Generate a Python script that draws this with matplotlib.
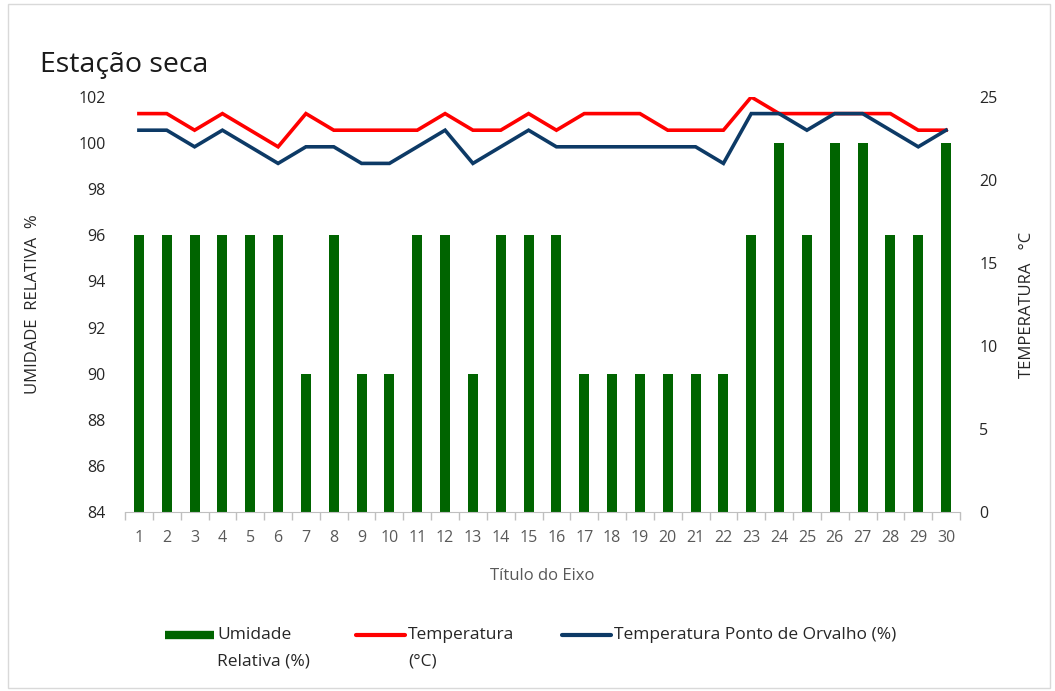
import matplotlib
matplotlib.use("Agg")
import matplotlib.pyplot as plt
from matplotlib.lines import Line2D
from matplotlib.patches import Rectangle
import numpy as np

plt.rcParams['font.family'] = ['Open Sans', 'DejaVu Sans']

days = list(range(1, 31))
umidade = [96, 96, 96, 96, 96, 96, 90, 96, 90, 90,
           96, 96, 90, 96, 96, 96, 90, 90, 90, 90,
           90, 90, 96, 100, 96, 100, 100, 96, 96, 100]
temperatura = [24, 24, 23, 24, 23, 22, 24, 23, 23, 23,
               23, 24, 23, 23, 24, 23, 24, 24, 24, 23,
               23, 23, 25, 24, 24, 24, 24, 24, 23, 23]
orvalho = [23, 23, 22, 23, 22, 21, 22, 22, 21, 21,
           22, 23, 21, 22, 23, 22, 22, 22, 22, 22,
           22, 21, 24, 24, 23, 24, 24, 23, 22, 23]
left_ticks = list(range(84, 103, 2))
right_ticks = [0, 5, 10, 15, 20, 25]

W, H = 1055, 691
fig = plt.figure(figsize=(W / 100, H / 100), dpi=100)
fig.patch.set_facecolor('white')

# outer border
fig.add_artist(Rectangle((8 / W, 3 / H), 1042 / W, 684 / H, transform=fig.transFigure,
                         fill=False, edgecolor='#D9D9D9', linewidth=1))

ax = fig.add_axes([125 / W, 1 - 512 / H, (960 - 125) / W, (512 - 97) / H])
ax2 = ax.twinx()

green = '#006400'
red = '#FF0000'
blue = '#0D3A66'
gray = '#595959'
dark = '#262626'

ax.bar(days, [u - 84 for u in umidade], bottom=84, width=0.36, color=green, zorder=2)
ax.set_ylim(84, 102)
ax.set_yticks(left_ticks)
ax.set_xlim(0.5, 30.5)
ax.set_xticks(days)
ax.set_xticks(np.arange(0.5, 31, 1), minor=True)
ax.tick_params(axis='x', which='major', length=0, pad=13, labelsize=11.5, labelcolor=gray)
ax.tick_params(axis='x', which='minor', length=6, color='#BFBFBF', width=1)
ax.tick_params(axis='y', length=0, pad=14, labelsize=11.5, labelcolor=dark)
for s in ['top', 'left', 'right']:
    ax.spines[s].set_visible(False)
ax.spines['bottom'].set_color('#BFBFBF')
ax.set_xlabel('Título do Eixo', fontsize=12, color=gray, labelpad=16)
ax.set_ylabel('UMIDADE  RELATIVA  %', fontsize=12, color=dark, labelpad=27)

ax2.plot(days, temperatura, color=red, linewidth=2.6, solid_joinstyle='miter', zorder=3)
ax2.plot(days, orvalho, color=blue, linewidth=2.6, solid_joinstyle='miter', zorder=3)
ax2.set_ylim(0, 25)
ax2.set_yticks(right_ticks)
ax2.tick_params(axis='y', length=0, pad=14, labelsize=11.5, labelcolor=dark)
for s in ['top', 'left', 'right', 'bottom']:
    ax2.spines[s].set_visible(False)
ax2.set_ylabel('TEMPERATURA   °C', fontsize=12, color=dark, labelpad=15)

fig.text(40 / W, 1 - 65 / H, 'Estação seca', fontsize=20.5, color='#1a1a1a', va='center', ha='left')

# legend (manual)
fs = 12.5
ly = 1 - 635 / H
fig.add_artist(Line2D([165 / W, 214 / W], [ly, ly], color=green, linewidth=6, transform=fig.transFigure, solid_capstyle='butt'))
fig.text(217 / W, ly, 'Umidade', fontsize=fs, color=dark, va='center')
fig.text(217 / W, 1 - 661 / H, 'Relativa (%)', fontsize=fs, color=dark, va='center')
fig.add_artist(Line2D([356 / W, 405 / W], [ly, ly], color=red, linewidth=3, transform=fig.transFigure, solid_capstyle='round'))
fig.text(408 / W, ly, 'Temperatura', fontsize=fs, color=dark, va='center')
fig.text(408 / W, 1 - 661 / H, '(°C)', fontsize=fs, color=dark, va='center')
fig.add_artist(Line2D([562 / W, 611 / W], [ly, ly], color=blue, linewidth=3, transform=fig.transFigure, solid_capstyle='round'))
fig.text(614 / W, ly, 'Temperatura Ponto de Orvalho (%)', fontsize=fs, color=dark, va='center')

fig.savefig('out.png', dpi=100)
